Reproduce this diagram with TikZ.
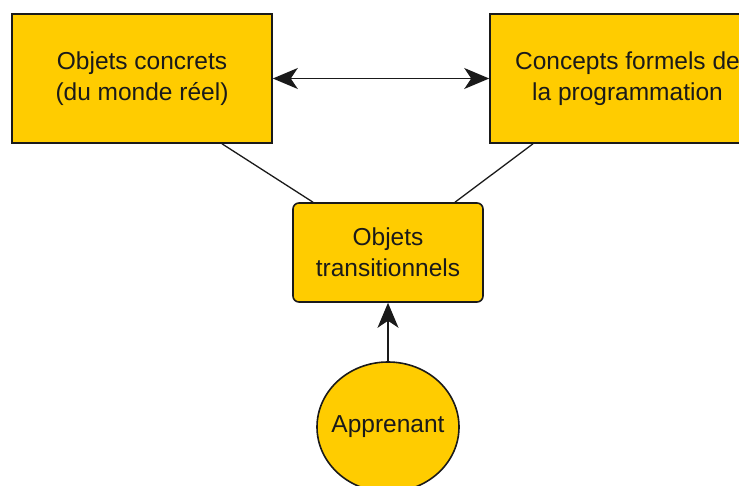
\documentclass[tikz,border=0pt]{standalone}
\usepackage{fontspec}
\setmainfont{Liberation Sans}
\usetikzlibrary{arrows.meta,shapes.geometric}
\definecolor{boxfill}{HTML}{FFCC00}
\definecolor{ink}{HTML}{1A1A1A}
\begin{document}
\begin{tikzpicture}[x=1pt,y=-1pt,
  box/.style={draw=ink, line width=1.6pt, fill=boxfill, minimum width=260pt, minimum height=129pt,
    align=center, font=\fontsize{24.5}{31}\selectfont, inner sep=0pt, text=ink},
  link/.style={draw=ink, line width=1.3pt},
  tip/.tip={Stealth[length=25pt,width=21pt,inset=7pt]}
]
\useasboundingbox (0,0) rectangle (739,486);
\clip (0,0) rectangle (739,486);
\node[box] (concr) at (142,78.5) {Objets concrets\\(du monde réel)};
\node[box, minimum width=275pt] (form) at (627.5,78.5) {Concepts formels de\\la programmation};
\node[box, rounded corners=6pt, minimum width=190pt, minimum height=99pt] (trans) at (388,252.5) {Objets\\transitionnels};
\node[box, ellipse, minimum width=142pt, minimum height=130pt] (app) at (388,427) {\makebox[0pt]{Apprenant}};
\draw[link, tip-tip] (concr) -- (form);
\draw[link] ([xshift=80pt]concr.south) -- ([xshift=-75pt]trans.north);
\draw[link] ([xshift=-94.5pt]form.south) -- ([xshift=67pt]trans.north);
\draw[link, -tip] (app.north) -- (trans.south);
\end{tikzpicture}
\end{document}
